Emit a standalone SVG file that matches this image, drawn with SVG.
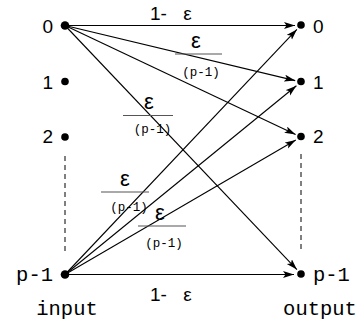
<svg xmlns="http://www.w3.org/2000/svg" width="361" height="326" viewBox="0 0 361 326">
<style>
.dig{font-family:"Liberation Sans",Arial,sans-serif;font-size:19px;fill:#000}
.eps{font-family:"Liberation Sans",Arial,sans-serif;font-size:22px;fill:#000;text-anchor:middle}
.pm{font-family:"Liberation Mono","Courier New",monospace;font-size:12.5px;fill:#000;text-anchor:middle}
.big{font-family:"Liberation Mono","Courier New",monospace;font-size:20.5px;fill:#000}
.edge{stroke:#000;stroke-width:1.1;fill:none;marker-end:url(#ah)}
.frac{stroke:#555;stroke-width:1.2}
.dash{stroke:#000;stroke-width:1;stroke-dasharray:5 4}
.dot{fill:#000}
</style>
<defs>
<marker id="ah" markerUnits="userSpaceOnUse" markerWidth="12" markerHeight="8" refX="11" refY="3.5" orient="auto">
<path d="M0,0 L11,3.5 L0,7 L2.5,3.5 z" fill="#000"/>
</marker>
</defs>
<g id="connectors">
<line class="edge" x1="65" y1="25.5" x2="295" y2="25.5"/>
<line class="edge" x1="65" y1="25.5" x2="295.2" y2="80.6"/>
<line class="edge" x1="65" y1="25.5" x2="295.6" y2="134.4"/>
<line class="edge" x1="65" y1="25.5" x2="296.9" y2="269.6"/>
<line class="edge" x1="65" y1="274.5" x2="296.9" y2="29.4"/>
<line class="edge" x1="65" y1="274.5" x2="296.4" y2="85.8"/>
<line class="edge" x1="65" y1="274.5" x2="295.8" y2="140"/>
<line class="edge" x1="65" y1="274.5" x2="294" y2="274.5"/>
<line class="dash" x1="65" y1="156" x2="65" y2="253"/>
<line class="dash" x1="301" y1="154" x2="301" y2="251"/>
</g>
<g id="labels">
<text class="dig" x="150" y="20">1-<tspan dx="11"> ε</tspan></text>
<text class="dig" x="150" y="301">1-<tspan dx="11"> ε</tspan></text>
<g id="fracA">
<text class="eps" x="196" y="48">ε</text>
<line class="frac" x1="175" y1="54" x2="222" y2="54"/>
<text class="pm" x="201" y="76">(p-1)</text>
</g>
<g id="fracB">
<text class="eps" x="149" y="109">ε</text>
<line class="frac" x1="123" y1="115.5" x2="173" y2="115.5"/>
<text class="pm" x="152.5" y="133">(p-1)</text>
</g>
<g id="fracC">
<text class="eps" x="125" y="186">ε</text>
<line class="frac" x1="101" y1="192" x2="149" y2="192" stroke="#999"/>
<text class="pm" x="129" y="211">(p-1)</text>
</g>
<g id="fracD">
<text class="eps" x="160" y="220">ε</text>
<line class="frac" x1="138" y1="226" x2="186" y2="226"/>
<text class="pm" x="164" y="247">(p-1)</text>
</g>
</g>
<g id="in0"><circle class="dot" cx="65" cy="25.5" r="4.3"/><text class="dig" x="53" y="33" text-anchor="end">0</text></g>
<g id="in1"><circle class="dot" cx="65" cy="81.5" r="3.8"/><text class="dig" x="53" y="89" text-anchor="end">1</text></g>
<g id="in2"><circle class="dot" cx="65" cy="137" r="3.8"/><text class="dig" x="53" y="143" text-anchor="end">2</text></g>
<g id="inp1"><circle class="dot" cx="65" cy="274.5" r="4.3"/><text class="big" x="53" y="281" text-anchor="end">p-1</text></g>
<g id="out0"><circle class="dot" cx="301" cy="25" r="3.8"/><text class="dig" x="313" y="33">0</text></g>
<g id="out1"><circle class="dot" cx="301" cy="81.5" r="3.8"/><text class="dig" x="313" y="89">1</text></g>
<g id="out2"><circle class="dot" cx="301" cy="136.5" r="3.8"/><text class="dig" x="313" y="143">2</text></g>
<g id="outp1"><circle class="dot" cx="301" cy="274" r="3.8"/><text class="big" x="313" y="281">p-1</text></g>
<text class="big" x="67" y="315" text-anchor="middle">input</text>
<text class="big" x="320" y="315" text-anchor="middle">output</text>
</svg>
